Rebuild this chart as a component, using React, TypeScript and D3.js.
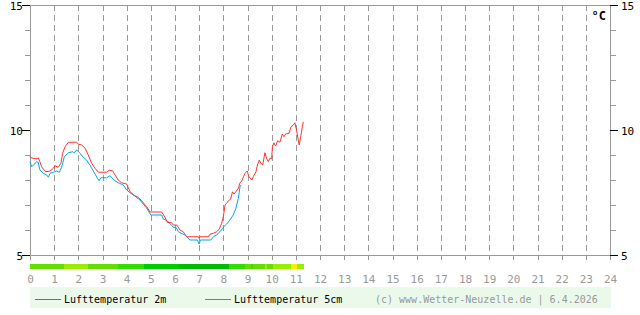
import React from "react";
import * as d3 from "d3";

const hourTicks = d3.range(0, 25);
const tempTicks = [5, 10, 15];
const tempMinorTicks = d3.range(5, 16);

// Lufttemperatur 2m: [hour, °C]
const temp2m: [number, number][] = [
  [0.0, 8.95], [0.04, 8.89], [0.3, 8.84], [0.34, 8.89], [0.41, 8.73], [0.48, 8.53], [0.55, 8.43],
  [0.66, 8.33], [0.83, 8.36], [0.97, 8.47], [1.03, 8.57], [1.17, 8.51], [1.28, 8.67], [1.35, 9.07],
  [1.45, 9.33], [1.59, 9.51], [1.93, 9.51], [2.0, 9.43], [2.14, 9.4], [2.28, 9.27], [2.41, 9.0],
  [2.55, 8.67], [2.69, 8.47], [2.83, 8.31], [3.17, 8.31], [3.28, 8.39], [3.42, 8.37], [3.52, 8.2],
  [3.65, 8.0], [3.79, 7.89], [4.0, 7.84], [4.14, 7.53], [4.34, 7.37], [4.48, 7.31], [4.62, 7.17],
  [4.83, 6.93], [4.97, 6.72], [5.45, 6.72], [5.59, 6.5], [5.68, 6.31], [5.86, 6.29], [5.93, 6.2],
  [6.07, 6.2], [6.21, 6.0], [6.34, 5.93], [6.48, 5.73], [6.97, 5.73], [7.0, 5.67], [7.03, 5.73],
  [7.38, 5.73], [7.45, 5.83], [7.59, 5.87], [7.72, 5.93], [7.83, 6.03], [7.93, 6.27], [8.0, 6.53],
  [8.07, 7.0], [8.14, 7.07], [8.21, 7.17], [8.3, 7.23], [8.38, 7.53], [8.44, 7.44], [8.52, 7.53],
  [8.62, 7.67], [8.69, 7.89], [8.76, 7.95], [8.83, 8.13], [8.9, 8.27], [8.99, 8.36], [9.05, 8.15],
  [9.17, 8.0], [9.24, 8.13], [9.35, 8.33], [9.41, 8.6], [9.49, 8.8], [9.55, 8.67], [9.63, 8.6],
  [9.72, 9.09], [9.79, 8.87], [9.86, 8.73], [9.93, 8.87], [10.0, 8.85], [10.03, 9.33], [10.09, 9.49],
  [10.16, 9.36], [10.25, 9.57], [10.34, 9.51], [10.44, 9.84], [10.51, 9.73], [10.58, 9.84],
  [10.72, 9.87], [10.8, 10.13], [10.9, 10.2], [10.96, 10.29], [11.03, 10.0], [11.1, 9.6],
  [11.14, 9.4], [11.2, 9.73], [11.27, 10.13], [11.31, 10.33],
];

// Lufttemperatur 5cm: [hour, °C]
const temp5cm: [number, number][] = [
  [0.0, 8.73], [0.07, 8.53], [0.17, 8.63], [0.28, 8.73], [0.34, 8.71], [0.41, 8.4], [0.55, 8.27],
  [0.69, 8.2], [0.76, 8.11], [0.83, 8.27], [0.97, 8.31], [1.1, 8.36], [1.21, 8.31], [1.31, 8.51],
  [1.42, 8.93], [1.59, 9.09], [1.77, 9.13], [1.83, 9.09], [1.93, 9.2], [2.04, 9.11], [2.18, 8.93],
  [2.34, 8.8], [2.48, 8.6], [2.62, 8.36], [2.79, 8.07], [2.86, 7.97], [2.93, 8.09], [3.17, 8.09],
  [3.31, 8.17], [3.52, 7.97], [3.65, 7.89], [3.86, 7.8], [4.0, 7.6], [4.14, 7.49], [4.34, 7.36],
  [4.55, 7.2], [4.83, 6.87], [5.0, 6.6], [5.45, 6.6], [5.52, 6.43], [5.62, 6.4], [5.76, 6.29],
  [5.93, 6.11], [6.04, 6.11], [6.14, 5.93], [6.41, 5.8], [6.62, 5.6], [6.93, 5.6], [7.0, 5.44],
  [7.05, 5.6], [7.48, 5.6], [7.59, 5.73], [7.72, 5.8], [7.86, 5.93], [8.0, 6.11], [8.14, 6.24],
  [8.27, 6.4], [8.41, 6.6], [8.52, 6.87], [8.62, 7.27], [8.69, 7.73], [8.73, 7.8],
];

// colour strip: segment start hours and colours
const stripStarts = [0, 1.41, 2.4, 3.64, 4.72, 6.16, 8.23, 8.9, 9.14, 9.23, 9.72, 9.8, 10.05, 10.8, 11.05];
const stripEnd = 11.34;
const stripColors = [
  "#66dd00", "#99ee00", "#66dd00", "#33dd00", "#00cc00", "#00bb00", "#33dd00", "#66dd00",
  "#33dd00", "#66dd00", "#99ee00", "#66dd00", "#99ee00", "#ffee00", "#99ee00",
];

const seriesNames = ["Lufttemperatur 2m", "Lufttemperatur 5cm"];
const seriesColors = ["#ff3333", "#00a8e0"];
const creditText = "(c) www.Wetter-Neuzelle.de | 6.4.2026";

const W = 640;
const H = 315;
const FONT = "'DejaVu Sans Mono', monospace";

export default function App() {
  const x = d3.scaleLinear().domain([0, 24]).range([30, 610]);
  const y = d3.scaleLinear().domain([5, 15]).range([255, 5]);
  const line = d3
    .line<[number, number]>()
    .x((d) => x(d[0]))
    .y((d) => y(d[1]));

  const grey = "#999999";

  return (
    <svg
      width={W}
      height={H}
      style={{ position: "absolute", left: 0, top: 0, background: "#fff" }}
      fontFamily={FONT}
    >
      <rect x={0} y={0} width={W} height={H} fill="#fff" />
      {/* vertical dashed hour lines */}
      {hourTicks.slice(1, 24).map((h) => (
        <line
          key={"g" + h}
          x1={x(h) + 0.5}
          x2={x(h) + 0.5}
          y1={y(15)}
          y2={y(5)}
          stroke={grey}
          strokeDasharray="6,4"
          shapeRendering="crispEdges"
        />
      ))}
      {/* hour ticks below axis */}
      {hourTicks.map((h) => (
        <line
          key={"t" + h}
          x1={x(h) + 0.5}
          x2={x(h) + 0.5}
          y1={y(5)}
          y2={y(5) + 5}
          stroke={grey}
          shapeRendering="crispEdges"
        />
      ))}
      {/* top and bottom lines */}
      <line x1={22} x2={618} y1={y(15) + 0.5} y2={y(15) + 0.5} stroke={grey} shapeRendering="crispEdges" />
      <line x1={22} x2={618} y1={y(5) + 0.5} y2={y(5) + 0.5} stroke={grey} shapeRendering="crispEdges" />
      {/* left and right axes */}
      <line x1={x(0) + 0.5} x2={x(0) + 0.5} y1={y(15)} y2={y(5)} stroke={grey} shapeRendering="crispEdges" />
      <line x1={x(24) + 0.5} x2={x(24) + 0.5} y1={y(15)} y2={y(5)} stroke={grey} shapeRendering="crispEdges" />
      {tempMinorTicks.map((t) => (
        <g key={"m" + t}>
          <line x1={x(0) - 5} x2={x(0)} y1={y(t) + 0.5} y2={y(t) + 0.5} stroke={grey} shapeRendering="crispEdges" />
          <line x1={x(24)} x2={x(24) + 6} y1={y(t) + 0.5} y2={y(t) + 0.5} stroke={grey} shapeRendering="crispEdges" />
        </g>
      ))}
      {tempTicks.map((t) => (
        <g key={"l" + t}>
          <line x1={x(0) - 8} x2={x(0)} y1={y(t) + 0.5} y2={y(t) + 0.5} stroke="#000" shapeRendering="crispEdges" />
          <line x1={x(24)} x2={x(24) + 8} y1={y(t) + 0.5} y2={y(t) + 0.5} stroke="#000" shapeRendering="crispEdges" />
          <text x={x(0) - 7} y={y(t) + 4.5} textAnchor="end" fontSize={11} fill="#000">
            {t}
          </text>
          <text x={x(24) + 11} y={y(t) + 4.5} textAnchor="start" fontSize={11} fill="#000">
            {t}
          </text>
        </g>
      ))}
      <text x={x(24) - 4} y={20} textAnchor="end" fontSize={12} fontWeight="bold" fill="#000">
        °C
      </text>
      {/* series */}
      <path d={line(temp5cm) || ""} fill="none" stroke={seriesColors[1]} strokeWidth={1} />
      <path d={line(temp2m) || ""} fill="none" stroke={seriesColors[0]} strokeWidth={1} />
      {/* colour strip */}
      {stripStarts.map((s, i) => {
        const e = i + 1 < stripStarts.length ? stripStarts[i + 1] : stripEnd;
        return (
          <rect
            key={"s" + i}
            x={x(s)}
            y={264}
            width={x(e) - x(s)}
            height={5}
            fill={stripColors[i]}
            shapeRendering="crispEdges"
          />
        );
      })}
      {/* hour labels */}
      {hourTicks.map((h) => (
        <text key={"x" + h} x={x(h) + 0.5} y={283} textAnchor="middle" fontSize={11} fill={grey}>
          {h}
        </text>
      ))}
      {/* legend */}
      <rect x={30} y={287} width={581} height={21} fill="#ebf9eb" />
      <rect x={35} y={299} width={26} height={1} fill={seriesColors[0]} shapeRendering="crispEdges" />
      <text x={64} y={303} fontSize={10} fill="#000">
        {seriesNames[0]}
      </text>
      <rect x={205} y={299} width={26} height={1} fill={seriesColors[1]} shapeRendering="crispEdges" />
      <text x={234} y={303} fontSize={10} fill="#000">
        {seriesNames[1]}
      </text>
      <text x={375} y={303} fontSize={10} fill={grey}>
        {creditText}
      </text>
    </svg>
  );
}
